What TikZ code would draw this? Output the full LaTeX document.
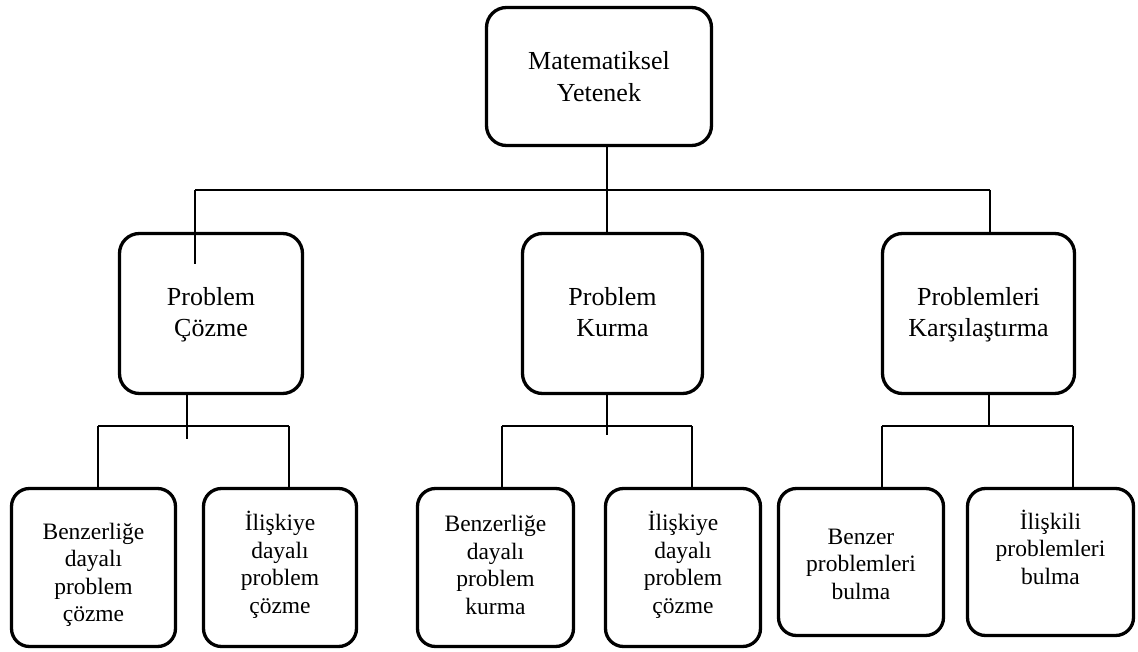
\documentclass[tikz,border=0pt]{standalone}
\usepackage{fontspec}
\setmainfont{Liberation Serif}
\newcommand{\mstrut}{\rule[-8pt]{0pt}{31pt}}
\begin{document}
\begin{tikzpicture}[x=1pt,y=-1pt,
  box/.style={draw, line width=3.3pt, rounded corners=20pt, inner sep=0pt, align=center},
  conn/.style={line width=1.8pt},
  toptext/.style={font=\fontsize{26}{32}\selectfont},
  midtext/.style={font=\fontsize{26}{28}\selectfont},
  lowtext/.style={font=\fontsize{23.5}{27.5}\selectfont, align=center, inner sep=0pt}]
\useasboundingbox (0,0) rectangle (1138,652);
% top
\node[box, toptext, minimum width=225pt, minimum height=138pt] (T) at (599,76.5) {Matematiksel\\Yetenek};
% middle
\node[box, midtext, minimum width=183pt, minimum height=160pt] (M1) at (211,313.5) {Problem\mstrut\\Çözme\mstrut};
\node[box, midtext, minimum width=180pt, minimum height=160pt] (M2) at (612.5,313.5) {Problem\mstrut\\Kurma\mstrut};
\node[box, midtext, minimum width=192pt, minimum height=160pt] (M3) at (978.5,313.5) {Problemleri\mstrut\\Karşılaştırma\mstrut};
% bottom boxes
\node[box, rounded corners=18pt, minimum width=164pt, minimum height=158pt] (A) at (93.5,567.5) {};
\node[box, rounded corners=18pt, minimum width=153pt, minimum height=158pt] (B) at (280,567.5) {};
\node[box, rounded corners=18pt, minimum width=156pt, minimum height=158pt] (C) at (495.5,567.5) {};
\node[box, rounded corners=18pt, minimum width=155pt, minimum height=158pt] (D) at (683,567.5) {};
\node[box, rounded corners=18pt, minimum width=165pt, minimum height=147pt] (E) at (861,562) {};
\node[box, rounded corners=18pt, minimum width=166pt, minimum height=147pt] (F) at (1050.5,562) {};
% bottom texts
\node[lowtext] (tA) at (93.5,575) {Benzerliğe\\dayalı\\problem\\çözme};
\node[lowtext] (tB) at (280,565) {İlişkiye\\dayalı\\problem\\çözme};
\node[lowtext] (tC) at (495.5,565) {Benzerliğe\\dayalı\\problem\\kurma};
\node[lowtext] (tD) at (683,565) {İlişkiye\\dayalı\\problem\\çözme};
\node[lowtext] (tE) at (861,564) {Benzer\\problemleri\\bulma};
\node[lowtext] (tF) at (1050.5,547) {İlişkili\\problemleri\\bulma};
% top-level connectors
\coordinate (v0) at (607,190);
\coordinate (busL) at (195,190);
\coordinate (busR) at (990,190);
\coordinate (inL) at (195,264);
\draw[conn] (T.south -| v0) -- (M2.north -| v0);
\draw[conn] (busL) -- (busR);
\draw[conn] (busL) -- (inL);
\draw[conn] (busR) -- (M3.north -| busR);
% group 1
\coordinate (s1) at (187,439);
\coordinate (b1L) at (98,426);
\coordinate (b1R) at (289,426);
\draw[conn] (M1.south -| s1) -- (s1);
\draw[conn] (b1L) -- (b1R);
\draw[conn] (b1L) -- (A.north -| b1L);
\draw[conn] (b1R) -- (B.north -| b1R);
% group 2
\coordinate (s2) at (607,435);
\coordinate (b2L) at (502,426);
\coordinate (b2R) at (692,426);
\draw[conn] (M2.south -| s2) -- (s2);
\draw[conn] (b2L) -- (b2R);
\draw[conn] (b2L) -- (C.north -| b2L);
\draw[conn] (b2R) -- (D.north -| b2R);
% group 3
\coordinate (s3) at (989,426);
\coordinate (b3L) at (882,426);
\coordinate (b3R) at (1073,426);
\draw[conn] (M3.south -| s3) -- (s3);
\draw[conn] (b3L) -- (b3R);
\draw[conn] (b3L) -- (E.north -| b3L);
\draw[conn] (b3R) -- (F.north -| b3R);
\end{tikzpicture}
\end{document}
